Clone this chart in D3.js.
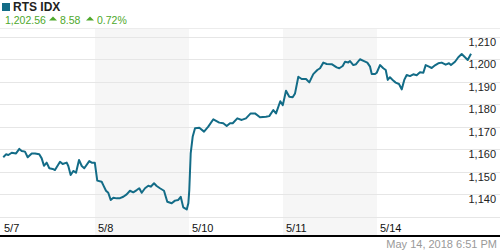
<!DOCTYPE html>
<html>
<head>
<meta charset="utf-8">
<script src="https://cdn.jsdelivr.net/npm/d3@7"></script>
<style>
  body { margin: 0; background: #fff; }
  svg { display: block; font-family: "Liberation Sans", Arial, sans-serif; }
</style>
</head>
<body>
<svg id="chart" width="500" height="250"></svg>
<script>
  'use strict';

  var title = 'RTS IDX';
  var lastValue = '1,202.56';
  var change = '8.58';
  var changePct = '0.72%';
  var stamp = 'May 14, 2018 6:51 PM';

  var dayLabels = ['5/7', '5/8', '5/10', '5/11', '5/14'];
  var yTicks = [1130, 1140, 1150, 1160, 1170, 1180, 1190, 1200, 1210];

  // time is in trading sessions since 5/7 open (1 = one full session)
  var times = [
    0.024, 0.053, 0.078, 0.114, 0.160, 0.195, 0.220, 0.255, 0.284, 0.327,
    0.362, 0.407, 0.433, 0.457, 0.486, 0.514, 0.550, 0.574, 0.628, 0.656,
    0.699, 0.716, 0.741, 0.769, 0.798, 0.830, 0.859, 0.886, 0.939, 0.965,
    0.998,
    1.024, 1.071, 1.088, 1.117, 1.141, 1.167, 1.195, 1.231, 1.266, 1.301,
    1.337, 1.372, 1.407, 1.444, 1.471, 1.497, 1.532, 1.567, 1.593, 1.628,
    1.656, 1.691, 1.734, 1.769, 1.816, 1.851, 1.886, 1.912, 1.939, 1.976,
    1.993,
    2.003, 2.018, 2.039, 2.064, 2.110, 2.160, 2.205, 2.259, 2.322, 2.365,
    2.401, 2.436, 2.465, 2.514, 2.561, 2.606, 2.656, 2.702, 2.755, 2.819,
    2.854, 2.897, 2.926, 2.971, 2.998,
    3.032, 3.067, 3.103, 3.128, 3.163, 3.199, 3.245, 3.280, 3.322, 3.365,
    3.394, 3.429, 3.465, 3.518, 3.571, 3.599, 3.635, 3.660, 3.695, 3.713,
    3.748, 3.777, 3.819, 3.862, 3.897, 3.926, 3.944, 3.979, 3.997,
    4.032, 4.067, 4.093, 4.114, 4.138, 4.173, 4.199, 4.234, 4.263, 4.290,
    4.316, 4.351, 4.386, 4.422, 4.457, 4.493, 4.518, 4.553, 4.582, 4.617,
    4.652, 4.688, 4.731, 4.766, 4.787, 4.830, 4.865, 4.901, 4.936, 4.965,
    5.000
  ];

  var values = [
    1156.5, 1157.8, 1157.5, 1158.5, 1158.2, 1160.2, 1159.3, 1159.0, 1156.5, 1158.2,
    1158.2, 1157.8, 1156.0, 1152.7, 1154.1, 1151.6, 1151.3, 1150.8, 1154.5, 1153.5,
    1154.1, 1152.6, 1148.6, 1150.4, 1149.6, 1155.3, 1152.6, 1151.6, 1154.8, 1154.1,
    1154.1,
    1146.1, 1145.6, 1144.1, 1141.6, 1140.7, 1137.5, 1138.5, 1138.2, 1138.3, 1138.9,
    1140.0, 1141.6, 1140.9, 1141.9, 1142.7, 1140.7, 1142.7, 1143.8, 1143.4, 1144.9,
    1143.7, 1142.7, 1141.6, 1136.7, 1136.0, 1137.2, 1137.5, 1138.9, 1134.2, 1133.3,
    1136.0,
    1141.9, 1158.2, 1165.6, 1169.4, 1169.6, 1167.9, 1170.1, 1173.4, 1171.9, 1171.6,
    1170.4, 1171.6, 1171.6, 1173.8, 1173.1, 1173.8, 1176.0, 1176.0, 1174.3, 1174.5,
    1174.8, 1177.5, 1176.0, 1181.4, 1179.7,
    1186.1, 1183.4, 1183.2, 1184.9, 1192.3, 1191.3, 1191.3, 1189.8, 1193.5, 1195.3,
    1196.1, 1198.6, 1198.0, 1197.9, 1196.5, 1196.1, 1197.1, 1199.0, 1198.7, 1199.3,
    1197.5, 1197.9, 1200.1, 1199.3, 1198.6, 1196.8, 1193.5, 1193.5, 1194.1,
    1197.5, 1196.1, 1195.3, 1190.9, 1192.1, 1190.6, 1189.7, 1189.1, 1186.7, 1190.9,
    1193.1, 1192.6, 1193.4, 1193.0, 1194.3, 1194.1, 1197.5, 1196.8, 1196.2, 1197.4,
    1198.3, 1198.6, 1197.7, 1198.3, 1197.5, 1199.0, 1201.0, 1202.4, 1201.0, 1199.8,
    1202.56
  ];

  var svg = d3.select('#chart');
  var width = 500;
  var plotTop = 29;
  var axisY = 236;
  var lineColor = '#136c87';
  var green = '#4ea82c';

  var x = d3.scaleLinear().domain([0, dayLabels.length]).range([1, 471]);
  var y = d3.scaleLinear().domain([1130, 1210]).range([216.8, 37]);

  // alternating day bands
  svg.append('g')
    .selectAll('rect')
    .data(dayLabels.filter(function(d, i) { return i % 2 === 1; }))
    .enter().append('rect')
    .attr('x', function(d) { return x(dayLabels.indexOf(d)); })
    .attr('y', plotTop)
    .attr('width', x(1) - x(0))
    .attr('height', axisY - plotTop)
    .attr('fill', '#f6f6f6');

  svg.append('line')
    .attr('x1', 0).attr('x2', width)
    .attr('y1', plotTop - 0.5).attr('y2', plotTop - 0.5)
    .attr('stroke', '#ececec');

  // horizontal grid + right labels
  var grid = svg.append('g');
  grid.selectAll('line')
    .data(yTicks)
    .enter().append('line')
    .attr('x1', 0).attr('x2', width)
    .attr('y1', function(d) { return Math.round(y(d)) + 0.5; })
    .attr('y2', function(d) { return Math.round(y(d)) + 0.5; })
    .attr('stroke', '#e6e6e6');

  grid.selectAll('text')
    .data(yTicks.filter(function(d) { return d > 1130; }))
    .enter().append('text')
    .attr('x', 496)
    .attr('y', function(d) { return Math.round(y(d)) + 9; })
    .attr('text-anchor', 'end')
    .attr('font-size', '11px')
    .attr('fill', '#222')
    .text(function(d) { return d3.format(',')(d); });

  var line = d3.line()
    .x(function(d, i) { return x(times[i]); })
    .y(function(d) { return y(d); });

  svg.append('path')
    .datum(values)
    .attr('d', line)
    .attr('fill', 'none')
    .attr('stroke', lineColor)
    .attr('stroke-width', 2)
    .attr('stroke-linejoin', 'round');

  // x axis
  svg.append('line')
    .attr('x1', 0).attr('x2', width)
    .attr('y1', axisY).attr('y2', axisY)
    .attr('stroke', '#000')
    .attr('stroke-width', 2);

  svg.append('g')
    .selectAll('text')
    .data(dayLabels)
    .enter().append('text')
    .attr('x', function(d, i) { return x(i) + 3; })
    .attr('y', 232)
    .attr('font-size', '11px')
    .attr('fill', '#111')
    .text(function(d) { return d; });

  svg.append('text')
    .attr('x', 497)
    .attr('y', 248)
    .attr('text-anchor', 'end')
    .attr('font-size', '11px')
    .attr('fill', '#999')
    .text(stamp);

  // header
  svg.append('rect')
    .attr('x', 2).attr('y', 3)
    .attr('width', 8).attr('height', 8)
    .attr('fill', lineColor);

  svg.append('text')
    .attr('x', 13).attr('y', 11)
    .attr('font-size', '12px')
    .attr('font-weight', 'bold')
    .attr('fill', '#222')
    .text(title);

  var sub = svg.append('g').attr('fill', green).attr('font-size', '10.5px');
  sub.append('text').attr('x', 5).attr('y', 24).text(lastValue);

  function triangle(cx) {
    sub.append('path')
      .attr('d', 'M' + (cx - 4) + ',20.5L' + cx + ',16.5L' + (cx + 4) + ',20.5Z');
  }
  triangle(53);
  sub.append('text').attr('x', 60).attr('y', 24).text(change);
  triangle(90);
  sub.append('text').attr('x', 97).attr('y', 24).text(changePct);
</script>
</body>
</html>
